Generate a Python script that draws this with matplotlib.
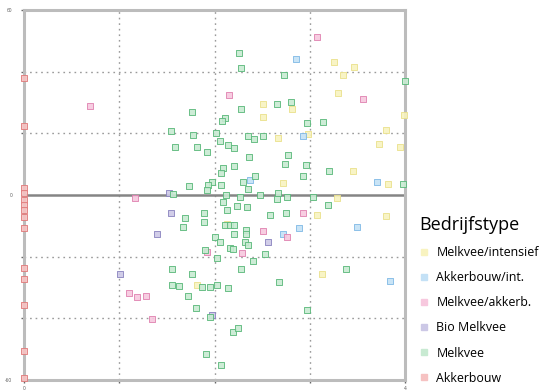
import matplotlib
matplotlib.use("Agg")
import matplotlib.pyplot as plt

plt.rcParams['font.family'] = ['Open Sans', 'DejaVu Sans']

# Farm-type groups (legend order)
categories = ["Melkvee/intensief", "Akkerbouw/int.", "Melkvee/akkerb.",
              "Bio Melkvee", "Melkvee", "Akkerbouw"]

melkvee_int_x = [3.25, 3.46, 3.35, 3.30, 2.51, 2.81, 2.51, 3.99, 3.80, 3.73, 3.95,
                 2.67, 2.98, 3.45, 2.72, 3.82, 3.29, 3.08, 3.80, 3.13, 1.82, 2.13]
melkvee_int_y = [43.1, 41.5, 38.9, 33.1, 29.5, 27.9, 25.3, 25.9, 21.1, 16.5, 15.6,
                 18.5, 19.8, 7.8, 3.9, 3.6, -1.0, -6.5, -6.8, -25.6, -29.2, -9.4]

akkerbouw_int_x = [2.86, 2.93, 2.37, 3.71, 2.89, 3.50, 2.72, 3.84]
akkerbouw_int_y = [44.1, 19.1, 4.9, 4.2, -10.7, -10.4, -12.6, -27.9]

melkvee_akk_x = [3.08, 0.69, 2.15, 3.56, 2.93, 2.51, 2.76, 1.92, 2.29, 1.10, 1.19,
                 1.28, 1.34, 1.17]
melkvee_akk_y = [51.2, 28.9, 32.4, 31.1, -5.8, -11.7, -13.6, -18.5, -18.8, -31.8,
                 -33.1, -32.8, -40.2, -1.0]

bio_x = [1.52, 1.54, 1.40, 2.56, 1.01, 1.97]
bio_y = [0.6, -5.8, -12.6, -15.2, -25.6, -38.9]

melkvee_x = [2.26, 2.28, 2.73, 4.00, 1.76, 2.11, 2.08, 2.28, 2.66, 2.80, 2.97, 3.14,
             1.54, 1.77, 2.02, 2.35, 2.41, 2.51, 1.59, 1.82, 2.06, 2.14, 2.20, 1.92,
             2.36, 2.77, 2.74, 2.20, 2.09, 2.07, 2.96, 3.20, 2.93, 2.43, 2.30, 1.97,
             1.93, 1.92, 1.73, 2.07, 2.35, 1.56, 3.98, 2.12, 2.27, 2.48, 2.67, 2.66,
             2.76, 3.03, 3.19, 2.09, 2.13, 2.24, 2.34, 1.89, 1.89, 1.69, 1.67, 2.58,
             2.75, 2.11, 2.16, 2.20, 2.33, 2.33, 2.20, 2.01, 2.06, 2.32, 2.35, 2.16,
             2.19, 1.90, 2.03, 2.53, 2.40, 1.55, 1.76, 2.28, 2.68, 3.38, 1.55, 1.63,
             1.87, 1.95, 2.03, 2.14, 1.72, 1.81, 2.97, 1.95, 2.19, 2.25, 1.91, 2.07]
melkvee_y = [46.1, 41.2, 38.9, 37.0, 26.9, 25.0, 24.0, 27.9, 29.5, 30.2, 23.3, 23.7,
             20.8, 19.5, 20.1, 19.1, 18.2, 19.1, 15.6, 15.6, 17.5, 16.2, 15.2, 13.9,
             12.3, 13.0, 10.1, 9.4, 8.8, 7.1, 9.7, 7.8, 6.2, 6.2, 4.2, 4.2,
             3.2, 1.6, 2.9, 3.2, 1.9, 0.3, 3.6, 0.0, -0.6, 0.0, 0.6, -1.3,
             -0.6, -0.6, -3.2, -2.3, -4.9, -3.6, -3.9, -5.8, -8.8, -7.5, -10.4, -6.5,
             -5.8, -9.7, -9.7, -9.7, -11.4, -12.6, -12.6, -13.6, -15.2, -15.2, -16.2, -17.2,
             -17.5, -17.8, -20.4, -19.1, -21.4, -24.0, -25.6, -24.0, -28.2, -24.0, -29.2, -29.5,
             -29.8, -29.8, -29.2, -30.2, -32.8, -36.6, -37.3, -39.6, -44.4, -43.1, -51.6, -55.1]

akkerbouw_x = [0.0] * 14
akkerbouw_y = [37.9, 22.4, 2.3, 0.5, -1.6, -3.2, -4.9, -7.1, -10.7, -23.7, -27.2,
               -35.7, -50.6, -59.4]

x_ticks = [0, 1, 2, 3, 4]
y_ticks = [-60, -40, -20, 0, 20, 40, 60]
y_tick_labels = ["-60", "", "", "0", "", "", "60"]
x_tick_labels = ["0", "", "", "", "4"]

series = [
    (melkvee_int_x, melkvee_int_y, "#f8f3c0", "#ebe28e"),
    (akkerbouw_int_x, akkerbouw_int_y, "#c4e1f6", "#82bbe6"),
    (melkvee_akk_x, melkvee_akk_y, "#f7c8de", "#e084b2"),
    (bio_x, bio_y, "#ccc8e6", "#8c86c0"),
    (melkvee_x, melkvee_y, "#c8ead2", "#5cb97c"),
    (akkerbouw_x, akkerbouw_y, "#f6c2c2", "#e07c7c"),
]

fig = plt.figure(figsize=(5.39, 3.91), dpi=100)
ax = fig.add_axes([24 / 539, 11 / 391, 381 / 539, 370 / 391])

ax.set_xlim(0, 4)
ax.set_ylim(-60, 60)

for xs, ys, face, edge in series:
    ax.scatter(xs, ys, s=14, marker="s", facecolor=face, edgecolor=edge,
               linewidths=0.7, alpha=0.9, zorder=3, clip_on=False)

# dotted grid and solid zero line
for gx in x_ticks[1:-1]:
    ax.axvline(gx, color="#9a9a9a", lw=1.0, ls=(0, (1.2, 2.8)), zorder=1)
for gy in y_ticks[1:-1]:
    if gy == 0:
        ax.axhline(gy, color="#858585", lw=1.8, zorder=2)
    else:
        ax.axhline(gy, color="#9a9a9a", lw=1.0, ls=(0, (1.2, 2.8)), zorder=1)

for sp in ax.spines.values():
    sp.set_color("#bcbcbc")
    sp.set_linewidth(2.2)

ax.set_xticks(x_ticks)
ax.set_xticklabels(x_tick_labels)
ax.set_yticks(y_ticks)
ax.set_yticklabels(y_tick_labels)
ax.tick_params(axis="both", length=2.5, width=1.0, color="#666666",
               labelsize=3.5, labelcolor="#555555")
ax.tick_params(axis="y", pad=6)
ax.tick_params(axis="x", pad=1.5)

# legend
handles = [plt.Line2D([], [], ls="", marker="s", markersize=4,
                      markerfacecolor=face, markeredgecolor=face)
           for _, _, face, edge in series]
leg = fig.legend(handles, categories, title="Bedrijfstype",
                 loc="upper left", bbox_to_anchor=(414 / 539, 1 - 211 / 391),
                 frameon=False, fontsize=8.9, title_fontsize=13,
                 handlelength=0.8, handletextpad=0.6, labelspacing=0.98,
                 alignment="left", borderaxespad=0)

fig.savefig("out.png", dpi=100)
